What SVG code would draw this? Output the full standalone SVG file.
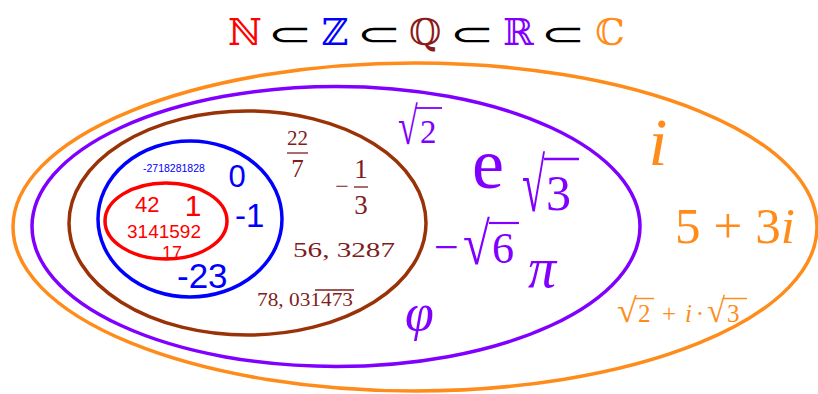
<svg xmlns="http://www.w3.org/2000/svg" width="818" height="394" viewBox="0 0 818 394">
<style>
.set{fill:none;stroke-width:3.5}
.ds{font-family:"DejaVu Serif","DejaVu Sans",serif;font-size:37px;text-anchor:middle}
.sub{font-family:"DejaVu Sans",sans-serif;font-size:37px;text-anchor:middle;fill:#000000}
.sans{font-family:"Liberation Sans",Arial,sans-serif}
.ser{font-family:"Liberation Serif","Times New Roman",serif}
.it{font-style:italic}
.mid{text-anchor:middle}
.nat{fill:#FF0000}
.int{fill:#0000FF}
.rat{fill:#7F1D1D}
.rea{fill:#8000FF}
.cpx{fill:#FF8C1A}
.vr{stroke:#8000FF}
.vc{stroke:#FF8C1A}
.vq{stroke:#7F1D1D;stroke-width:1.3}
</style>
<rect width="818" height="394" fill="#FFFFFF"/>
<g id="title">
<text class="ds" x="245" y="45" fill="#FF0000">ℕ</text>
<text class="sub" transform="translate(290,45) scale(1.45,0.85)">⊂</text>
<text class="ds" x="335" y="45" fill="#0000FF">ℤ</text>
<text class="sub" transform="translate(379,45) scale(1.45,0.85)">⊂</text>
<text class="ds" x="425" y="45" fill="#8B1A1A">ℚ</text>
<text class="sub" transform="translate(472,45) scale(1.45,0.85)">⊂</text>
<text class="ds" x="518" y="45" fill="#8000FF">ℝ</text>
<text class="sub" transform="translate(563,45) scale(1.45,0.85)">⊂</text>
<text class="ds" x="610" y="45" fill="#FF8C1A">ℂ</text>
</g>
<g id="complex">
<ellipse class="set" cx="415" cy="227" rx="402" ry="164" stroke="#FF8C1A"/>
<text class="ser it cpx mid" x="658" y="165" font-size="68">i</text>
<text class="ser cpx" x="675" y="243" font-size="51" textLength="120">5 + 3<tspan class="it">i</tspan></text>
<text class="ser cpx" transform="translate(617,322) scale(1,0.95)" font-size="36">√</text>
<line class="vc" x1="635" y1="298.5" x2="654" y2="298.5" stroke-width="1.5"/>
<text class="ser cpx" x="638" y="322" font-size="25">2</text>
<text class="ser cpx mid" x="669" y="322" font-size="25">+</text>
<text class="ser it cpx" x="685" y="322" font-size="25">i</text>
<text class="ser cpx mid" x="700" y="322" font-size="25">·</text>
<text class="ser cpx" transform="translate(707,322) scale(1,1.04)" font-size="33">√</text>
<line class="vc" x1="723" y1="298.5" x2="747" y2="298.5" stroke-width="1.5"/>
<text class="ser cpx" x="727" y="322" font-size="25">3</text>
</g>
<g id="real">
<ellipse class="set" cx="336" cy="226.5" rx="304" ry="140" stroke="#8000FF"/>
<text class="ser rea" transform="translate(398,144) scale(1,1.47)" font-size="36">√</text>
<line class="vr" x1="416" y1="108" x2="442" y2="108" stroke-width="1.8"/>
<text class="ser rea" x="420" y="143" font-size="33">2</text>
<text class="ser rea" x="472" y="188" font-size="72">e</text>
<text class="ser rea" transform="translate(522,211) scale(1,1.8)" font-size="42">√</text>
<line class="vr" x1="544" y1="159" x2="579" y2="159" stroke-width="2.4"/>
<text class="ser rea" x="546" y="210" font-size="50">3</text>
<text class="ser rea" x="434" y="262" font-size="44">−</text>
<text class="ser rea" transform="translate(463,264) scale(1,1.22)" font-size="49">√</text>
<line class="vr" x1="489" y1="223" x2="519" y2="223" stroke-width="2.2"/>
<text class="ser rea" x="492" y="263" font-size="44">6</text>
<text class="ser it rea" x="528" y="287" font-size="56">π</text>
<text class="ser it rea" x="405" y="330" font-size="52">φ</text>
</g>
<g id="rational">
<ellipse class="set" cx="247.5" cy="223" rx="178.5" ry="112" stroke="#9A3208"/>
<text class="ser rat mid" x="297.5" y="145" font-size="21">22</text>
<line class="vq" x1="287" y1="153" x2="308" y2="153"/>
<text class="ser rat mid" x="297.5" y="177" font-size="25">7</text>
<text class="ser rat mid" x="342" y="194" font-size="24">−</text>
<text class="ser rat mid" x="361" y="178" font-size="27">1</text>
<line class="vq" x1="354" y1="187" x2="368" y2="187"/>
<text class="ser rat mid" x="361" y="214" font-size="27">3</text>
<text class="ser rat" x="293" y="257" font-size="22" textLength="102" lengthAdjust="spacingAndGlyphs">56, 3287</text>
<text class="ser rat" x="257" y="306" font-size="18" textLength="96" lengthAdjust="spacingAndGlyphs">78, 031473</text>
<line class="vq" x1="315" y1="290" x2="354" y2="290" stroke-width="1.2"/>
</g>
<g id="integer">
<ellipse class="set" cx="190" cy="219" rx="92" ry="78" stroke="#0000FF"/>
<text class="sans int" x="143" y="172" font-size="10.5">-2718281828</text>
<text class="sans int mid" x="237" y="187" font-size="31">0</text>
<text class="sans int" x="235" y="227" font-size="33">-1</text>
<text class="sans int" x="177" y="288" font-size="35">-23</text>
</g>
<g id="natural">
<ellipse class="set" cx="166" cy="221" rx="61" ry="38" stroke="#FF0000"/>
<text class="sans nat" x="135" y="212" font-size="22">42</text>
<text class="sans nat mid" x="193" y="216" font-size="30">1</text>
<text class="sans nat mid" x="164" y="237.5" font-size="19">3141592</text>
<text class="sans nat mid" x="172" y="258.5" font-size="18">17</text>
</g>
</svg>
